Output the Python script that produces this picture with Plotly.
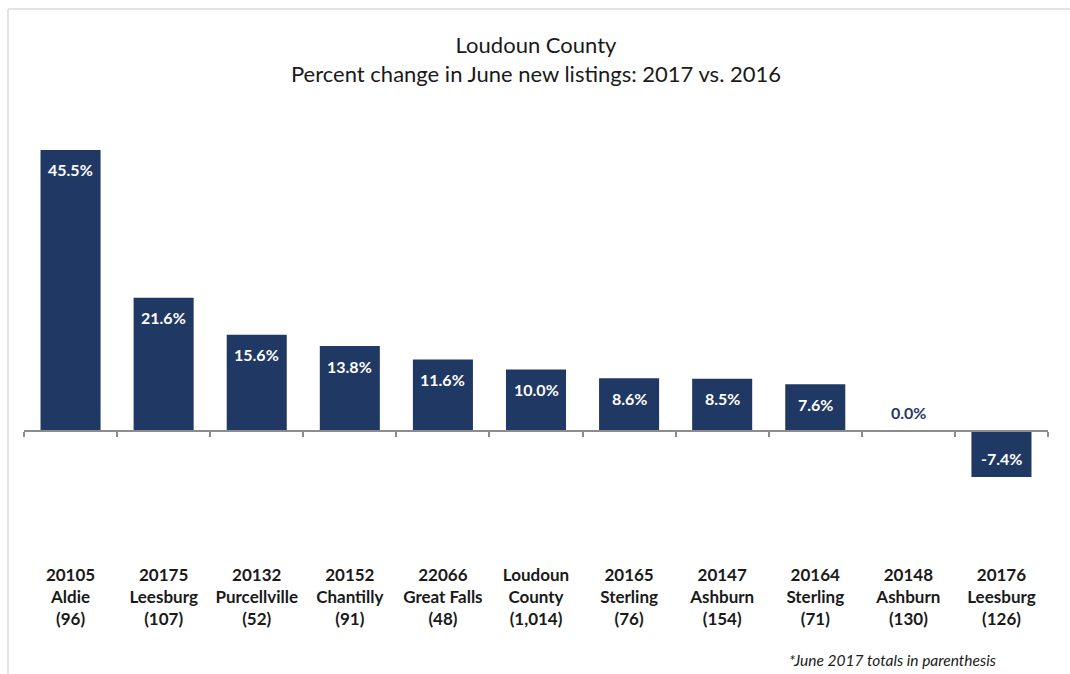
import plotly.graph_objects as go

# Percent change in June new listings, 2017 vs. 2016, by ZIP code
zips = ["20105", "20175", "20132", "20152", "22066", "Loudoun", "20165", "20147", "20164", "20148", "20176"]
places = ["Aldie", "Leesburg", "Purcellville", "Chantilly", "Great Falls", "County",
          "Sterling", "Ashburn", "Sterling", "Ashburn", "Leesburg"]
totals_2017 = ["96", "107", "52", "91", "48", "1,014", "76", "154", "71", "130", "126"]
pct_change = [45.5, 21.6, 15.6, 13.8, 11.6, 10.0, 8.6, 8.5, 7.6, 0.0, -7.4]

NAVY = "#1f3864"
FONT = "Lato, 'Open Sans', sans-serif"

categories = [f"{z}<br>{p}<br>({t})" for z, p, t in zip(zips, places, totals_2017)]
idx = list(range(len(categories)))

fig = go.Figure()
fig.add_trace(go.Bar(
    x=idx, y=pct_change,
    marker=dict(color=NAVY, line=dict(width=0)),
    width=0.645,
    hoverinfo="skip",
    showlegend=False,
))
# invisible trace to carry the zero-line axis
fig.add_trace(go.Scatter(x=[idx[0], idx[-1]], y=[0, 0], xaxis="x2", mode="lines",
                         line=dict(width=0), hoverinfo="skip", showlegend=False))

# value labels: inside bars (white), the zero bar gets a navy label above the axis
for i, v in enumerate(pct_change):
    if v > 0:
        color, shift = "white", -20
    elif v < 0:
        color, shift = "white", 19
    else:
        color, shift = NAVY, 19
    fig.add_annotation(x=i, y=v, text=f"{v:.1f}%", showarrow=False,
                       yanchor="middle", yshift=shift,
                       font=dict(family=FONT, size=16, color=color, weight="bold"))

Y_MIN, Y_MAX = -20, 47.6
zero_pos = (0 - Y_MIN) / (Y_MAX - Y_MIN)

fig.update_layout(
    width=1070, height=674,
    margin=dict(l=24, r=22, t=137, b=119),
    paper_bgcolor="white", plot_bgcolor="white",
    title=dict(text="Loudoun County<br>Percent change in June new listings: 2017 vs. 2016",
               x=0.5, xref="paper", y=(674 - 53) / 674, yref="container", yanchor="middle",
               font=dict(family=FONT, size=22, color="#1a1a1a")),
    xaxis=dict(
        range=[-0.5, len(idx) - 0.5],
        tickmode="array", tickvals=idx, ticktext=categories,
        showline=False, showgrid=False, zeroline=False, ticks="",
        ticklabelstandoff=8,
        tickfont=dict(family=FONT, size=17, color="#1a1a1a", weight="bold"),
    ),
    xaxis2=dict(
        overlaying="x", anchor="free", position=zero_pos,
        range=[-0.5, len(idx) - 0.5],
        tickmode="array", tickvals=[i - 0.5 for i in range(len(idx) + 1)],
        showticklabels=False, ticks="outside", ticklen=5, tickwidth=1.5,
        tickcolor="#8c8c8c", showline=True, linecolor="#8c8c8c", linewidth=1.5,
        showgrid=False, zeroline=False,
    ),
    yaxis=dict(range=[Y_MIN, Y_MAX], visible=False, showgrid=False, zeroline=False),
    bargap=0.355,
)

# light frame along the top and left edges
fig.add_shape(type="line", xref="paper", yref="paper",
              x0=(8 - 24) / 1024, x1=1.1, y0=(555 - 9) / 418, y1=(555 - 9) / 418,
              line=dict(color="#e4e4e4", width=2))
fig.add_shape(type="line", xref="paper", yref="paper",
              x0=(8 - 24) / 1024, x1=(8 - 24) / 1024, y0=(555 - 9) / 418, y1=-0.5,
              line=dict(color="#e4e4e4", width=2))

fig.add_annotation(text="<i>*June 2017 totals in parenthesis</i>", xref="paper", yref="paper",
                   x=(998 - 24) / 1024, y=(555 - 660) / 418, xanchor="right", yanchor="middle",
                   showarrow=False, font=dict(family=FONT, size=15.5, color="#1a1a1a"))

fig.write_html("out.html")
